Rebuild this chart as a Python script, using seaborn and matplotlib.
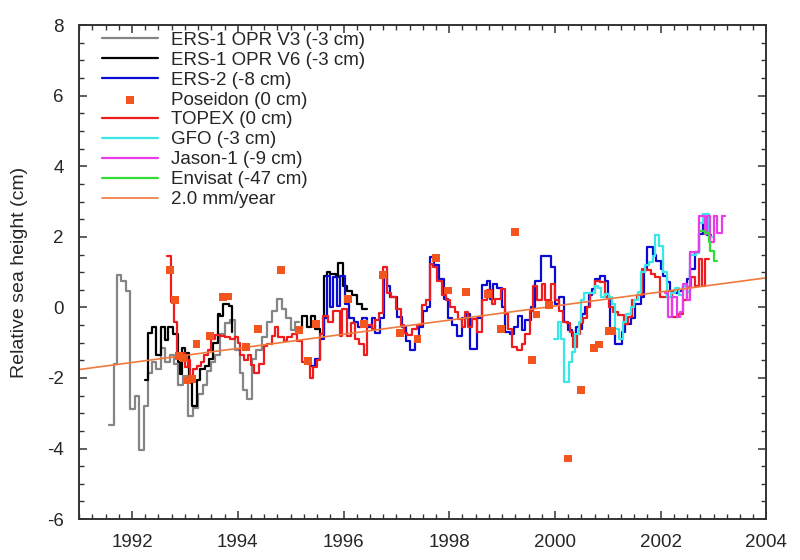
import matplotlib
matplotlib.use("Agg")
import matplotlib.pyplot as plt
from matplotlib.ticker import MultipleLocator
import seaborn as sns
import pandas as pd

# step series: each list ends with the end time of the last cycle
ers1_v3_t = [1991.57, 1991.65, 1991.72, 1991.80, 1991.89, 1991.97, 1992.05, 1992.13, 1992.22, 1992.30,
             1992.38, 1992.46, 1992.55, 1992.63, 1992.72, 1992.80, 1992.87, 1992.97, 1993.06, 1993.16,
             1993.25, 1993.35, 1993.41, 1993.50, 1993.57, 1993.66, 1993.76, 1993.86, 1993.95, 1994.04,
             1994.10, 1994.17, 1994.27, 1994.35, 1994.45, 1994.55, 1994.64, 1994.74, 1994.83, 1994.92,
             1995.00, 1995.08, 1995.15]
ers1_v3_h = [-3.34, -1.60, 0.91, 0.74, 0.48, -2.87, -2.52, -4.05, -2.78, -1.85,
             -1.55, -1.75, -1.15, -1.55, -1.35, -1.60, -2.20, -1.95, -3.07, -2.85,
             -2.45, -2.20, -1.80, -1.55, -1.35, -0.75, -0.45, -0.35, -1.20, -1.85,
             -2.35, -2.59, -1.45, -1.20, -0.85, -0.40, -0.10, 0.25, -0.05, -0.30,
             -0.65, -0.40, -0.40]

ers1_v6a_t = [1992.24, 1992.30, 1992.38, 1992.46, 1992.54, 1992.63, 1992.68, 1992.78, 1992.86, 1992.90,
              1992.95, 1993.01, 1993.07, 1993.13, 1993.23, 1993.29, 1993.38, 1993.45, 1993.54, 1993.62,
              1993.66, 1993.72, 1993.83, 1993.89]
ers1_v6a_h = [-2.07, -0.72, -0.56, -1.36, -0.55, -0.92, -0.55, -0.75, -1.55, -1.88,
              -1.15, -1.30, -2.07, -2.78, -2.07, -1.75, -1.65, -1.45, -1.00, -0.20,
              -0.25, 0.10, 0.05, -0.70]
ers1_v6b_t = [1995.12, 1995.21, 1995.30, 1995.38, 1995.47, 1995.56, 1995.63, 1995.69, 1995.75, 1995.85,
              1995.89, 1995.99, 1996.07, 1996.16, 1996.25, 1996.35, 1996.44]
ers1_v6b_h = [-0.60, -0.25, -0.55, -0.25, -0.60, -0.75, 0.90, 1.00, 0.95, 0.85,
              1.25, 0.60, 0.48, 0.34, 0.10, -0.04, -0.04]

ers2_t = [1995.30, 1995.38, 1995.47, 1995.56, 1995.63, 1995.68, 1995.75, 1995.80, 1995.88, 1995.94,
          1996.03, 1996.10, 1996.20, 1996.28, 1996.35, 1996.45, 1996.53, 1996.60, 1996.69, 1996.76,
          1996.82, 1996.88, 1996.96, 1997.01, 1997.11, 1997.18, 1997.26, 1997.35, 1997.42, 1997.50,
          1997.57, 1997.64, 1997.72, 1997.80, 1997.90, 1997.98, 1998.05, 1998.14, 1998.24, 1998.33,
          1998.40, 1998.53, 1998.62, 1998.71, 1998.78, 1998.82, 1998.91, 1999.00, 1999.06, 1999.15,
          1999.22, 1999.31, 1999.38, 1999.44, 1999.55, 1999.63, 1999.73, 1999.92, 2000.01, 2000.08,
          2000.17, 2000.25, 2000.32, 2000.39, 2000.45, 2000.52, 2000.57, 2000.64, 2000.70, 2000.76,
          2000.86, 2000.95, 2001.00, 2001.05, 2001.14, 2001.26, 2001.33, 2001.43, 2001.52, 2001.62,
          2001.68, 2001.74, 2001.85, 2001.92, 2002.00, 2002.05, 2002.12, 2002.18, 2002.27, 2002.33,
          2002.42, 2002.50, 2002.56, 2002.64, 2002.72, 2002.80, 2002.88, 2002.95]
ers2_h = [-1.55, -1.65, -1.45, -0.90, -0.30, 0.88, 0.00, 0.85, 0.05, 0.88,
          0.10, -0.30, -0.40, -0.55, -0.30, -0.55, -0.30, -0.72, -0.30, 1.00,
          0.60, 0.30, 0.30, -0.27, -0.55, -0.94, -1.22, -0.94, -0.56, -0.10,
          0.00, 1.43, 1.20, 0.80, 0.25, -0.30, -0.50, -0.80, -0.30, -0.20,
          -1.17, -0.30, 0.65, 0.76, 0.25, 0.67, 0.55, 0.00, -0.70, -0.75,
          -0.55, -0.25, -0.65, -0.35, 0.00, 0.76, 1.47, 1.14, 0.10, 0.30,
          -0.40, -0.65, -0.80, -0.55, -0.60, -0.20, 0.01, 0.35, 0.52, 0.80,
          0.88, 0.76, 0.30, -0.70, -1.03, -0.70, -0.46, -0.30, 0.10, 0.30,
          1.05, 1.71, 1.50, 1.33, 1.10, 0.90, 0.72, 0.48, 0.40, 0.48,
          0.60, 0.80, 1.10, 1.57, 2.09, 2.41, 2.05, 2.05]

topex_t = [1992.66, 1992.74, 1992.80, 1992.85, 1992.90, 1992.95, 1993.00, 1993.05, 1993.10, 1993.16,
           1993.23, 1993.30, 1993.36, 1993.43, 1993.50, 1993.57, 1993.66, 1993.75, 1993.85, 1993.95,
           1994.00, 1994.05, 1994.11, 1994.20, 1994.25, 1994.30, 1994.40, 1994.49, 1994.55, 1994.65,
           1994.71, 1994.77, 1994.87, 1994.93, 1995.02, 1995.12, 1995.21, 1995.31, 1995.37, 1995.43,
           1995.50, 1995.56, 1995.62, 1995.71, 1995.81, 1995.94, 1995.97, 1996.06, 1996.15, 1996.22,
           1996.30, 1996.38, 1996.45, 1996.53, 1996.60, 1996.68, 1996.75, 1996.82, 1996.90, 1997.00,
           1997.08, 1997.14, 1997.20, 1997.29, 1997.39, 1997.48, 1997.56, 1997.64, 1997.70, 1997.77,
           1997.86, 1997.93, 1998.02, 1998.10, 1998.17, 1998.24, 1998.29, 1998.35, 1998.43, 1998.52,
           1998.62, 1998.71, 1998.81, 1998.87, 1998.97, 1999.06, 1999.12, 1999.18, 1999.28, 1999.38,
           1999.44, 1999.53, 1999.59, 1999.66, 1999.75, 1999.82, 1999.92, 2000.01, 2000.08, 2000.15,
           2000.22, 2000.29, 2000.34, 2000.41, 2000.48, 2000.54, 2000.60, 2000.67, 2000.76, 2000.86,
           2000.95, 2001.02, 2001.10, 2001.20, 2001.30, 2001.38, 2001.46, 2001.55, 2001.64, 2001.72,
           2001.82, 2001.90, 2001.99, 2002.12, 2002.22, 2002.33, 2002.42, 2002.50, 2002.58, 2002.65,
           2002.72, 2002.78, 2002.84, 2002.91]
topex_h = [1.47, 0.15, -0.40, -1.36, -1.45, -1.30, -1.70, -1.50, -2.05, -1.75,
           -1.65, -1.55, -1.35, -1.20, -0.90, -0.77, -0.80, -0.85, -0.90, -0.85,
           -1.00, -1.35, -1.50, -1.36, -1.64, -1.85, -1.60, -1.10, -1.05, -0.80,
           -0.55, -0.85, -0.95, -0.85, -0.75, -0.95, -1.55, -1.60, -2.00, -1.70,
           -1.50, -0.75, -0.25, -0.40, -0.10, -0.80, -0.05, -0.80, -0.45, -0.90,
           -1.05, -1.35, -0.50, -0.60, -0.35, -0.15, 1.14, 0.40, 0.30, -0.05,
           -0.50, -0.72, -0.78, -0.62, -0.50, 0.07, 0.21, 1.24, 1.14, 0.76,
           0.35, 0.21, 0.01, -0.13, -0.32, -0.56, -0.13, -0.56, -0.32, -0.70,
           0.21, 0.50, 0.10, 0.24, 0.52, -0.18, -0.60, -1.12, -1.22, -1.03,
           -0.75, -0.10, 0.62, 0.20, 0.67, 0.20, 0.67, 0.20, -0.10, -0.40,
           -0.45, -0.70, -1.12, -0.75, -0.45, -0.30, 0.00, 0.40, 0.76, 0.72,
           0.30, 0.00, -0.13, -0.22, -0.46, -0.27, 0.20, 0.34, 1.10, 1.05,
           0.95, 0.86, 0.29, 0.48, -0.27, -0.18, 0.20, 0.57, 0.86, 0.62,
           1.38, 0.62, 1.38, 1.38]

gfo_t = [1999.98, 2000.06, 2000.12, 2000.17, 2000.27, 2000.33, 2000.38, 2000.45, 2000.50, 2000.55,
         2000.65, 2000.75, 2000.82, 2000.88, 2000.95, 2001.02, 2001.08, 2001.14, 2001.22, 2001.28,
         2001.35, 2001.43, 2001.50, 2001.57, 2001.62, 2001.70, 2001.78, 2001.85, 2001.90, 2001.97,
         2002.05, 2002.12, 2002.20, 2002.28, 2002.35, 2002.42, 2002.50, 2002.56, 2002.66, 2002.72,
         2002.80, 2002.92, 2002.98]
gfo_h = [-0.90, -0.40, -0.90, -2.12, -1.55, -1.25, -0.75, -0.40, 0.20, 0.40,
         0.42, 0.62, 0.55, 0.29, 0.39, 0.29, 0.10, -0.60, -0.90, -0.40,
         -0.20, 0.00, 0.20, 0.45, 1.00, 1.20, 1.30, 1.45, 2.05, 1.75,
         1.00, 0.30, 0.40, 0.55, 0.35, 0.60, 0.45, 1.50, 1.55, 2.40,
         2.65, 2.00, 2.00]

jason_t = [2002.09, 2002.14, 2002.22, 2002.30, 2002.37, 2002.43, 2002.50, 2002.56, 2002.72, 2002.83,
           2002.88, 2002.94, 2003.00, 2003.07, 2003.16, 2003.22]
jason_h = [0.40, -0.27, 0.29, -0.27, -0.13, 0.67, 0.20, 1.57, 2.60, 2.09,
           2.60, 1.85, 2.60, 2.10, 2.60, 2.60]

envisat_t = [2002.75, 2002.84, 2002.91, 2002.94, 2003.00, 2003.07]
envisat_h = [2.18, 2.10, 1.85, 1.60, 1.33, 1.33]

poseidon_t = [1992.72, 1992.81, 1992.89, 1992.98, 1993.05, 1993.14, 1993.22, 1993.47, 1993.72, 1993.82,
              1994.15, 1994.39, 1994.82, 1995.15, 1995.33, 1995.48, 1996.08, 1996.39, 1996.74, 1997.07,
              1997.40, 1997.75, 1997.98, 1998.32, 1998.73, 1998.98, 1999.24, 1999.56, 1999.65, 1999.88,
              2000.24, 2000.49, 2000.74, 2000.83, 2001.02, 2001.08]
poseidon_h = [1.07, 0.20, -1.38, -1.43, -2.07, -2.02, -1.04, -0.80, 0.30, 0.31,
              -1.12, -0.60, 1.07, -0.65, -1.52, -0.48, 0.23, -0.48, 0.93, -0.72,
              -0.89, 1.41, 0.48, 0.43, 0.37, -0.60, 2.13, -1.50, -0.20, 0.06,
              -4.28, -2.33, -1.14, -1.05, -0.67, -0.67]

trend_t = [1991.0, 2004.0]
trend_h = [-1.76, 0.84]

sns.set_style("ticks")
plt.rcParams['font.family'] = ['Liberation Sans', 'DejaVu Sans']
plt.rcParams['axes.unicode_minus'] = False

fig = plt.figure(figsize=(8, 5.6), dpi=100)
ax = fig.add_axes([0.099, 0.073, 0.859, 0.882])

lw = 1.6
steps = [
    (ers1_v3_t, ers1_v3_h, "#858585", "ERS-1 OPR V3 (-3 cm)"),
    (ers1_v6a_t, ers1_v6a_h, "black", "ERS-1 OPR V6 (-3 cm)"),
    (ers1_v6b_t, ers1_v6b_h, "black", None),
    (ers2_t, ers2_h, "#0a0ad2", "ERS-2 (-8 cm)"),
    (topex_t, topex_h, "#ee1c1c", "TOPEX (0 cm)"),
    (gfo_t, gfo_h, "#38e8e8", "GFO (-3 cm)"),
    (jason_t, jason_h, "#e83ce8", "Jason-1 (-9 cm)"),
    (envisat_t, envisat_h, "#33dd33", "Envisat (-47 cm)"),
]
for t, h, c, lab in steps:
    df = pd.DataFrame({"year": t, "height": h})
    sns.lineplot(data=df, x="year", y="height", ax=ax, color=c, lw=lw,
                 drawstyle="steps-post", estimator=None, sort=False,
                 label=lab, legend=False)

sns.lineplot(x=trend_t, y=trend_h, ax=ax, color="#f07a3c", lw=1.2,
             label="2.0 mm/year", legend=False)
sns.scatterplot(x=poseidon_t, y=poseidon_h, ax=ax, marker="s", s=32,
                color="#f2561e", edgecolor="none", label="Poseidon (0 cm)",
                legend=False, zorder=5)

ax.set_xlim(1991, 2004)
ax.set_ylim(-6, 8)
ax.xaxis.set_major_locator(MultipleLocator(2))
ax.xaxis.set_minor_locator(MultipleLocator(0.25))
ax.yaxis.set_major_locator(MultipleLocator(2))
ax.yaxis.set_minor_locator(MultipleLocator(0.5))
ax.tick_params(which="both", direction="in", top=True, right=True,
               labelsize=13.5, color="#333333")
ax.tick_params(which="major", length=6, width=1.1, pad=11)
ax.tick_params(which="minor", length=3.5, width=1.0)
for sp in ax.spines.values():
    sp.set_linewidth(1.4)
    sp.set_color("#333333")
ax.set_xlabel("")
ax.set_ylabel("Relative sea height (cm)", fontsize=14, labelpad=14)

order = ["ERS-1 OPR V3 (-3 cm)", "ERS-1 OPR V6 (-3 cm)", "ERS-2 (-8 cm)",
         "Poseidon (0 cm)", "TOPEX (0 cm)", "GFO (-3 cm)", "Jason-1 (-9 cm)",
         "Envisat (-47 cm)", "2.0 mm/year"]
handles, labels = ax.get_legend_handles_labels()
lookup = dict(zip(labels, handles))
ax.legend([lookup[k] for k in order], order, loc="upper left",
          bbox_to_anchor=(0.0335, 0.987), frameon=False, fontsize=13.5,
          handlelength=2.95, handletextpad=0.7, labelspacing=0.15,
          borderaxespad=0, borderpad=0, scatterpoints=1)

fig.savefig("out.png", dpi=100)
